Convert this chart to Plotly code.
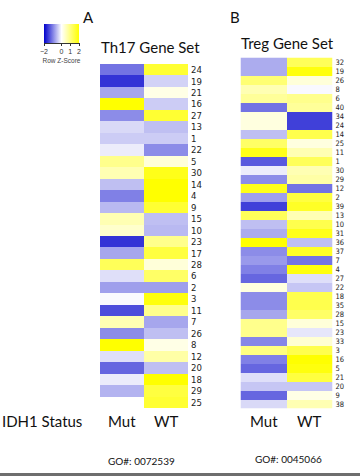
import plotly.graph_objects as go

W, H = 360, 476

# Th17 gene set: row order and Row Z-Scores (Mut, WT)
th17_genes = ["24", "19", "21", "16", "27", "13", "1", "22", "5", "30",
              "14", "4", "9", "15", "10", "23", "17", "28", "6", "2",
              "3", "11", "7", "26", "8", "12", "20", "18", "29", "25"]
th17_mut = [-1.1, -1.6, -0.7, 2.0, -0.9, -0.3, -0.4, -0.15, 0.9, 0.6,
            -0.5, -1.0, -0.55, 0.6, 0.4, -1.6, -0.7, 1.3, -0.25, -0.75,
            -0.05, -1.4, 0.6, -0.9, 2.0, -0.25, -1.2, -0.15, -0.6, 0.0]
th17_wt = [1.6, -0.35, 0.2, -0.4, 1.6, -0.5, -0.4, -0.9, 0.3, 1.8,
           2.0, 2.0, 1.6, -0.5, -0.55, 0.9, 1.5, 0.3, 1.2, -0.75,
           1.9, 0.9, -0.7, -0.5, 0.2, 0.7, -0.5, 2.0, 1.5, 1.6]

# Treg gene set: row order and Row Z-Scores (Mut, WT)
treg_genes = ["32", "19", "26", "8", "6", "40", "34", "24", "14", "25",
              "11", "1", "30", "29", "12", "2", "39", "13", "10", "31",
              "36", "37", "7", "4", "27", "22", "18", "35", "28", "15",
              "23", "33", "3", "16", "5", "21", "20", "9", "38"]
treg_mut = [-0.65, -0.65, 1.1, 0.6, 0.8, -1.1, 0.25, 0.25, -0.5, 1.2,
            1.8, -1.3, -0.15, -0.9, 1.8, -0.75, -1.5, 1.3, -0.5, -0.65,
            2.0, -0.9, -0.8, -1.0, -1.2, 0.25, -0.9, -0.9, -0.7, 0.9,
            0.9, -0.95, 1.0, -1.0, -1.2, -0.25, -0.45, -1.2, -0.3]
treg_wt = [1.3, 1.9, 0.3, -0.05, 0.9, 0.8, -1.5, -1.5, 1.4, 0.25,
           0.6, 1.3, 0.6, 0.7, -1.1, 1.5, 1.7, 0.6, 1.4, 1.8,
           -0.5, 1.7, -1.1, 1.9, -0.25, -0.45, 1.4, 1.4, 1.2, 0.3,
           -0.2, 0.35, 1.4, 2.0, 1.9, 1.5, -0.45, 0.2, 0.6]

status = ["Mut", "WT"]
scale_ticks = [-2, 0, 1, 2]


def px_x(x):
    return x / W


def px_y(y):
    return 1 - y / H


LABEL_FONT = "Lato, Open Sans, sans-serif"
NARROW_FONT = "Liberation Sans Narrow, Arial Narrow, DejaVu Sans Condensed, sans-serif"

fig = go.Figure()

fig.add_trace(go.Heatmap(
    x=status, y=th17_genes,
    z=[[m, w] for m, w in zip(th17_mut, th17_wt)],
    coloraxis="coloraxis", xaxis="x", yaxis="y",
    hovertemplate="%{y} %{x}: %{z}<extra></extra>",
))
fig.add_trace(go.Heatmap(
    x=status, y=treg_genes,
    z=[[m, w] for m, w in zip(treg_mut, treg_wt)],
    coloraxis="coloraxis", xaxis="x2", yaxis="y2",
    hovertemplate="%{y} %{x}: %{z}<extra></extra>",
))

axis_common = dict(showgrid=False, zeroline=False, showline=False, ticks="")

fig.update_layout(
    width=W, height=H,
    margin=dict(l=0, r=0, t=0, b=0),
    paper_bgcolor="white", plot_bgcolor="white",
    showlegend=False,
    coloraxis=dict(
        cmin=-2, cmax=2,
        colorscale=[[0, "#0000cc"], [0.5, "#ffffff"], [1, "#ffff00"]],
        colorbar=dict(
            orientation="h",
            x=px_x(61.5), xanchor="center",
            y=px_y(24), yanchor="top",
            len=35, lenmode="pixels",
            thickness=19, thicknessmode="pixels",
            outlinewidth=0, xpad=0, ypad=0,
            tickvals=scale_ticks, ticks="outside", ticklen=3,
            tickcolor="#333", tickwidth=1,
            tickfont=dict(size=7, color="#333", family="Arial, sans-serif"),
            title=dict(text="Row Z-Score", side="bottom",
                       font=dict(size=6.5, color="#444", family="Arial, sans-serif")),
        ),
    ),
    xaxis=dict(domain=[px_x(100), px_x(188)], anchor="y",
               showticklabels=False, fixedrange=True, **axis_common),
    yaxis=dict(domain=[px_y(408), px_y(64)], anchor="x", side="right",
               autorange="reversed", fixedrange=True,
               tickmode="linear", tick0=0, dtick=1, ticklabelstandoff=2,
               tickfont=dict(size=9.5, color="#222", family=NARROW_FONT),
               **axis_common),
    xaxis2=dict(domain=[px_x(240.5), px_x(332.5)], anchor="y2",
                showticklabels=False, fixedrange=True, **axis_common),
    yaxis2=dict(domain=[px_y(408.5), px_y(57.5)], anchor="x2", side="right",
                autorange="reversed", fixedrange=True,
                tickmode="linear", tick0=0, dtick=1, ticklabelstandoff=2,
                tickfont=dict(size=7.5, color="#222", family=NARROW_FONT),
                **axis_common),
)

annotations = [
    dict(text="A", x=px_x(88), y=px_y(17), font=dict(size=15)),
    dict(text="B", x=px_x(235), y=px_y(17), font=dict(size=15)),
    dict(text="Th17 Gene Set", x=px_x(150), y=px_y(47), font=dict(size=15)),
    dict(text="Treg Gene Set", x=px_x(287), y=px_y(43), font=dict(size=15)),
    dict(text="IDH1 Status", x=px_x(42), y=px_y(421), font=dict(size=15)),
    dict(text="GO#: 0072539", x=px_x(141), y=px_y(461), font=dict(size=10)),
    dict(text="GO#: 0045066", x=px_x(288), y=px_y(459), font=dict(size=10)),
]
for a in annotations:
    a.update(xref="paper", yref="paper", showarrow=False,
             xanchor="center", yanchor="middle")
    a["font"].update(family=LABEL_FONT, color="#111")

# column headers under each heatmap, placed on the categorical x axes
for xref in ("x", "x2"):
    for name in status:
        annotations.append(dict(
            text=name, x=name, xref=xref, y=px_y(421), yref="paper",
            showarrow=False, xanchor="center", yanchor="middle",
            font=dict(size=15, family=LABEL_FONT, color="#111"),
        ))

fig.update_layout(annotations=annotations)

fig.update_layout(shapes=[
    # baseline under the colour key
    dict(type="line", xref="paper", yref="paper",
         x0=px_x(44), x1=px_x(79), y0=px_y(43.5), y1=px_y(43.5),
         line=dict(color="#333", width=1)),
    # frame edge along the bottom
    dict(type="rect", xref="paper", yref="paper",
         x0=0, x1=1, y0=px_y(476), y1=px_y(473),
         line=dict(width=0), fillcolor="#6e6e6e"),
])

fig.write_html("out.html")
